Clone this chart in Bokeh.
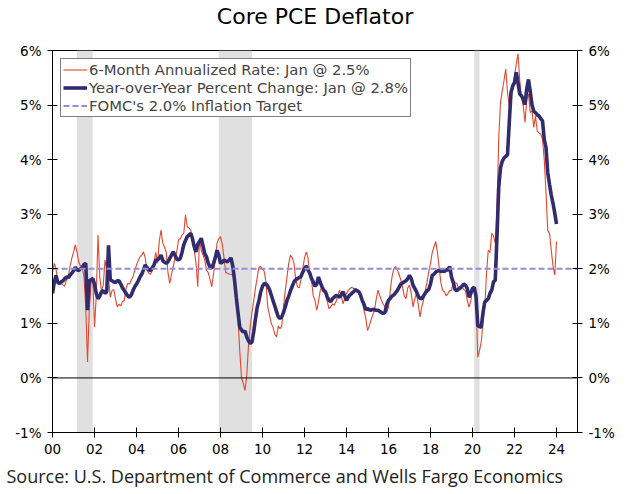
import numpy as np
from bokeh.plotting import figure
from bokeh.models import (Range1d, LinearAxis, FixedTicker, Span, BoxAnnotation,
                          Legend, LegendItem, Title)
from bokeh.embed import file_html
from bokeh.resources import INLINE

TITLE = "Core PCE Deflator"
SOURCE = "Source: U.S. Department of Commerce and Wells Fargo Economics"
START_YEAR = 2000

# 6-month annualized rate, monthly from Jan 2000 to Jan 2024
SIX_MONTH = [
    1.94, 2.10, 2.00, 1.76, 1.75, 1.73, 1.70, 1.68, 1.80, 1.85, 2.04, 2.19,
    2.30, 2.44, 2.30, 2.12, 2.05, 2.02, 1.85, 1.30, 0.29, 1.24, 1.73, 1.85,
    0.93, 1.50, 2.62, 1.85, 1.60, 1.70, 2.16, 1.99, 1.85, 1.48, 1.60, 1.62,
    1.45, 1.30, 1.35, 1.32, 1.40, 1.42, 1.64, 1.73, 1.72, 1.80, 1.85, 1.97,
    2.07, 2.15, 2.22, 2.25, 2.31, 2.20, 1.97, 1.92, 1.90, 1.96, 2.10, 2.30,
    2.10, 2.50, 2.71, 2.47, 2.40, 2.30, 1.93, 1.73, 1.90, 2.04, 2.20, 2.31,
    2.53, 2.55, 2.62, 2.65, 2.99, 2.77, 2.75, 2.71, 2.50, 2.34, 2.10, 1.67,
    2.53, 2.34, 2.25, 2.16, 1.97, 1.93, 1.80, 1.67, 1.90, 2.16, 2.47, 2.55,
    2.59, 2.45, 2.20, 1.93, 1.92, 1.90, 1.90, 1.88, 1.85, 1.60, 1.10, 0.50,
    0.00, -0.10, -0.23, 0.05, 0.60, 0.95, 1.20, 1.42, 1.65, 1.85, 2.03, 2.04,
    2.00, 1.95, 1.75, 1.30, 1.15, 1.00, 0.93, 0.80, 0.75, 0.95, 0.90, 0.95,
    1.30, 1.60, 1.85, 2.10, 2.25, 2.20, 2.10, 1.80, 1.67, 1.65, 1.80, 2.00,
    2.20, 2.31, 2.20, 1.90, 1.79, 1.50, 1.42, 1.24, 1.40, 1.60, 1.67, 1.60,
    1.55, 1.40, 1.27, 1.30, 1.36, 1.33, 1.40, 1.50, 1.61, 1.50, 1.36, 1.45,
    1.55, 1.60, 1.64, 1.66, 1.64, 1.64, 1.62, 1.55, 1.48, 1.40, 1.24, 1.10,
    0.87, 0.95, 1.06, 1.15, 1.24, 1.45, 1.61, 1.51, 1.42, 1.35, 1.30, 1.20,
    1.30, 1.60, 1.85, 2.00, 2.04, 1.98, 1.90, 1.80, 1.67, 1.50, 1.45, 1.65,
    1.70, 1.55, 1.30, 1.45, 1.55, 1.35, 1.12, 1.30, 1.42, 1.60, 1.75, 1.95,
    2.10, 2.30, 2.40, 2.50, 2.30, 2.00, 1.73, 1.60, 1.58, 1.50, 1.55, 1.60,
    1.60, 1.79, 1.75, 1.73, 1.65, 1.61, 1.67, 1.62, 1.60, 1.42, 1.30, 1.40,
    1.64, 1.60, 1.50, 0.38, 0.50, 0.66, 1.03, 1.30, 1.90, 2.34, 2.30, 2.65,
    2.60, 2.47, 3.10, 4.40, 5.05, 5.26, 5.45, 5.66, 5.23, 4.98, 5.10, 5.35,
    5.54, 5.75, 5.94, 5.45, 5.15, 4.98, 4.68, 5.10, 5.20, 4.86, 4.90, 4.59,
    4.80, 4.52, 4.49, 4.47, 4.37, 4.00, 3.40, 2.70, 2.65, 2.35, 2.05, 1.89,
    2.50,
]

# Year-over-year percent change, monthly from Jan 2000 to Jan 2024
YOY = [
    1.55, 1.75, 1.88, 1.75, 1.73, 1.76, 1.78, 1.82, 1.85, 1.84, 1.88, 1.92,
    1.96, 2.03, 1.98, 1.97, 2.00, 2.02, 2.08, 2.10, 1.24, 1.78, 1.80, 1.82,
    1.72, 1.55, 1.45, 1.50, 1.58, 1.60, 1.55, 1.58, 2.43, 1.80, 1.78, 1.76,
    1.75, 1.78, 1.78, 1.72, 1.65, 1.60, 1.55, 1.50, 1.48, 1.52, 1.60, 1.67,
    1.72, 1.78, 1.85, 1.90, 1.98, 2.07, 2.02, 1.98, 1.97, 2.02, 2.07, 2.16,
    2.16, 2.20, 2.25, 2.15, 2.12, 2.10, 2.13, 2.19, 2.25, 2.31, 2.25, 2.18,
    2.16, 2.19, 2.30, 2.44, 2.52, 2.59, 2.62, 2.65, 2.55, 2.40, 2.31, 2.45,
    2.50, 2.56, 2.42, 2.28, 2.22, 2.10, 2.03, 2.01, 2.10, 2.20, 2.34, 2.25,
    2.10, 2.12, 2.16, 2.14, 2.13, 2.16, 2.20, 2.05, 1.80, 1.48, 1.20, 0.93,
    0.88, 0.84, 0.86, 0.75, 0.68, 0.63, 0.66, 0.85, 1.09, 1.30, 1.42, 1.58,
    1.68, 1.73, 1.72, 1.68, 1.62, 1.52, 1.42, 1.32, 1.22, 1.12, 1.09, 1.12,
    1.20, 1.30, 1.42, 1.50, 1.60, 1.68, 1.76, 1.80, 1.82, 1.84, 1.86, 1.94,
    2.00, 2.05, 1.98, 1.92, 1.82, 1.76, 1.68, 1.72, 1.85, 1.75, 1.67, 1.60,
    1.58, 1.48, 1.42, 1.40, 1.45, 1.48, 1.51, 1.50, 1.48, 1.52, 1.58, 1.50,
    1.42, 1.48, 1.52, 1.55, 1.58, 1.61, 1.60, 1.58, 1.52, 1.42, 1.35, 1.25,
    1.27, 1.25, 1.24, 1.26, 1.25, 1.24, 1.24, 1.22, 1.20, 1.18, 1.20, 1.35,
    1.42, 1.46, 1.50, 1.52, 1.56, 1.60, 1.66, 1.72, 1.74, 1.76, 1.78, 1.82,
    1.88, 1.82, 1.70, 1.64, 1.58, 1.50, 1.46, 1.45, 1.50, 1.55, 1.60, 1.62,
    1.72, 1.88, 1.90, 1.94, 1.96, 1.97, 1.95, 1.96, 1.95, 1.98, 1.98, 2.04,
    1.85, 1.75, 1.62, 1.60, 1.63, 1.65, 1.68, 1.72, 1.70, 1.64, 1.48, 1.55,
    1.64, 1.66, 1.50, 0.96, 0.94, 0.93, 1.20, 1.39, 1.42, 1.45, 1.55, 1.61,
    1.76, 1.79, 2.60, 3.50, 3.85, 3.97, 4.03, 4.06, 4.09, 4.68, 5.23, 5.35,
    5.41, 5.60, 5.41, 5.20, 5.17, 5.10, 5.01, 5.30, 5.47, 5.25, 5.00, 4.89,
    4.86, 4.82, 4.80, 4.75, 4.71, 4.37, 4.22, 3.76, 3.55, 3.35, 3.20, 3.02,
    2.82,
]

TARGET = 2.0

# recessions (first month, last month)
REC_START = [(2001, 3), (2007, 12), (2020, 2)]
REC_END = [(2001, 11), (2009, 6), (2020, 4)]

LEGEND_LABELS = [
    "6-Month Annualized Rate: Jan @ 2.5%",
    "Year-over-Year Percent Change: Jan @ 2.8%",
    "FOMC's 2.0% Inflation Target",
]

X_MIN, X_MAX = 2000, 2025
Y_MIN, Y_MAX = -1, 6
X_TICKS = list(range(2000, 2025, 2))
X_TICK_LABELS = ["00", "02", "04", "06", "08", "10", "12", "14", "16", "18", "20", "22", "24"]
Y_TICKS = [-1, 0, 1, 2, 3, 4, 5, 6]
Y_TICK_LABELS = ["-1%", "0%", "1%", "2%", "3%", "4%", "5%", "6%"]

RED = "#E5462D"
NAVY = "#302C6E"
PURPLE = "#958BDA"
GRAY = "#E0E0E0"
FONT = "DejaVu Sans"

months = START_YEAR + np.arange(len(YOY)) / 12.0

p = figure(width=626, height=494, output_backend="svg", toolbar_location=None,
           x_range=Range1d(X_MIN, X_MAX), y_range=Range1d(Y_MIN, Y_MAX),
           min_border_left=52, min_border_right=49, min_border_top=50,
           min_border_bottom=62, background_fill_color="white",
           border_fill_color="white")
p.outline_line_color = "black"
p.outline_line_width = 1
p.xgrid.visible = False
p.ygrid.visible = False
p.title.text = ""

# spacer between frame and title, then the title itself
spacer = Title(text=" ", text_font_size="2px", standoff=18)
p.add_layout(spacer, "above")
main_title = Title(text=TITLE, align="center", text_font=FONT, text_font_size="22px",
                   text_font_style="normal", text_color="black", standoff=0)
p.add_layout(main_title, "above")

for (ys, ms), (ye, me) in zip(REC_START, REC_END):
    p.add_layout(BoxAnnotation(left=ys + (ms - 1) / 12.0, right=ye + me / 12.0,
                               fill_color=GRAY, fill_alpha=1.0, line_color=None,
                               level="underlay"))

p.add_layout(Span(location=0, dimension="width", line_color="black", line_width=1))

r_six = p.line(months, SIX_MONTH, line_color=RED, line_width=1.1)
r_yoy = p.line(months, YOY, line_color=NAVY, line_width=3.6)
r_tgt = p.line([X_MIN, X_MAX], [TARGET, TARGET], line_color=PURPLE, line_width=2.0,
               line_dash="6 3")

def style_axis(ax, ticks, labels):
    ax.ticker = FixedTicker(ticks=ticks)
    ax.major_label_overrides = {t: l for t, l in zip(ticks, labels)}
    ax.major_label_text_font = FONT
    ax.major_label_text_font_size = "13.5px"
    ax.major_label_text_color = "black"
    ax.axis_line_color = "black"
    ax.major_tick_line_color = "black"
    ax.major_tick_in = 5
    ax.major_tick_out = 5
    ax.minor_tick_line_color = None
    ax.major_label_standoff = 6

style_axis(p.xaxis[0], X_TICKS, X_TICK_LABELS)
style_axis(p.yaxis[0], Y_TICKS, Y_TICK_LABELS)
right = LinearAxis()
style_axis(right, Y_TICKS, Y_TICK_LABELS)
p.add_layout(right, "right")

legend = Legend(items=[LegendItem(label=LEGEND_LABELS[0], renderers=[r_six]),
                       LegendItem(label=LEGEND_LABELS[1], renderers=[r_yoy]),
                       LegendItem(label=LEGEND_LABELS[2], renderers=[r_tgt])],
                location="top_left", margin=8, padding=2, spacing=1,
                label_height=15, glyph_height=15, glyph_width=24, label_standoff=2,
                label_text_font=FONT, label_text_font_size="14.8px",
                border_line_color="black", border_line_width=1,
                background_fill_color="white", background_fill_alpha=1.0)
p.add_layout(legend, "center")

src = Title(text=SOURCE, align="left", text_font="Open Sans", text_font_size="18px",
            text_font_style="normal", text_color="#222222", offset=-46)
p.add_layout(src, "below")

open("out.html", "w").write(file_html(p, INLINE))
